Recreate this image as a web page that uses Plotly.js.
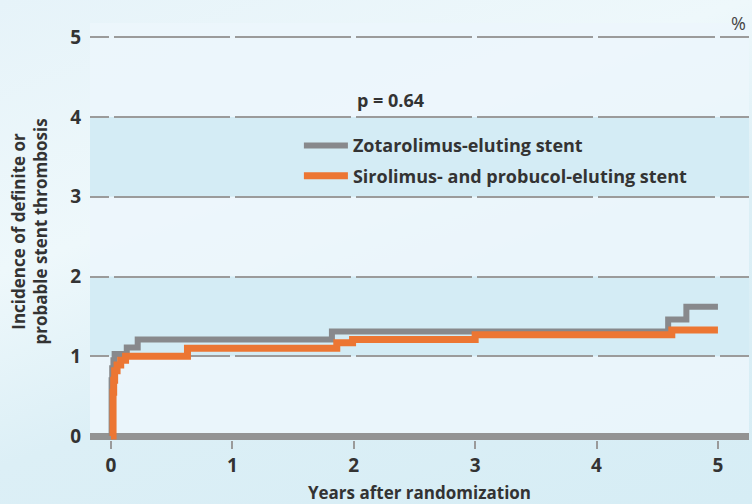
<!DOCTYPE html>
<html>
<head>
<meta charset="utf-8">
<script src="https://cdn.plot.ly/plotly-3.0.1.min.js"></script>
<style>
html,body{margin:0;padding:0;}
body{width:752px;height:504px;overflow:hidden;
background:linear-gradient(160deg,#e6f3f9 0%,#eef8fb 35%,#dceff6 60%,#d6edf5 100%);}
#chart{width:752px;height:504px;}
</style>
</head>
<body>
<div id="chart"></div>
<script>
// Years after randomization / cumulative incidence (%)
var zotYears = [0, 0.005, 0.01, 0.02, 0.03, 0.13, 0.22, 1.82, 4.59, 4.74, 5.0];
var zotInc   = [0, 0.70, 0.85, 0.95, 1.03, 1.11, 1.21, 1.31, 1.46, 1.62, 1.62];
var sirYears = [0, 0.017, 0.022, 0.03, 0.05, 0.08, 0.12, 0.63, 1.86, 1.99, 3.0, 4.62, 5.0];
var sirInc   = [0, 0.55, 0.70, 0.82, 0.89, 0.95, 1.00, 1.10, 1.17, 1.21, 1.27, 1.33, 1.33];
var xTicks = [0, 1, 2, 3, 4, 5];
var yTicks = [0, 1, 2, 3, 4, 5];
var seriesNames = ['Zotarolimus-eluting stent', 'Sirolimus- and probucol-eluting stent'];
var pText = 'p = 0.64';

var font = 'Open Sans, Noto Sans, DejaVu Sans, sans-serif';
var dash = '18.5px,5px';
for (var i = 0; i < 6; i++) dash += ',116.2px,5px';

var traces = [
  {x: zotYears, y: zotInc, name: seriesNames[0], mode: 'lines', type: 'scatter',
   line: {shape: 'hv', color: '#88898c', width: 6}, legendgroup: 'a'},
  {x: sirYears, y: sirInc, name: seriesNames[1], mode: 'lines', type: 'scatter',
   line: {shape: 'hv', color: '#ec7633', width: 7}, legendgroup: 'b'}
];

var bands = [];
[[3,4],[1,2]].forEach(function(b){
  bands.push({type:'rect', xref:'paper', yref:'y', x0:0, x1:1, y0:b[0], y1:b[1],
    fillcolor:'#d4ecf5', line:{width:0}, layer:'below'});
});

var layout = {
  width: 752, height: 504,
  margin: {l: 90, r: 3, t: 23, b: 64},
  paper_bgcolor: 'rgba(0,0,0,0)',
  plot_bgcolor: 'rgba(236,246,251,0.85)',
  font: {family: font, color: '#333333'},
  showlegend: true,
  legend: {x: 0.317, y: 0.75, xanchor: 'left', yanchor: 'top', bgcolor: 'rgba(0,0,0,0)',
    itemwidth: 44,
    font: {size: 18, weight: 'bold', color: '#333333', family: font}, tracegroupgap: 4},
  xaxis: {range: [-0.173, 5.256], tickvals: xTicks, ticks: 'outside', ticklen: 8, tickwidth: 2,
    tickcolor: '#9a9a9a', showgrid: false, zeroline: false, showline: false,
    tickfont: {size: 19, weight: 'bold', color: '#333333'},
    title: {text: 'Years after randomization', font: {size: 17, weight: 'bold', color: '#333333'}, standoff: 10}},
  yaxis: {range: [-0.05, 5.18], tickvals: yTicks, ticks: '', showgrid: true, gridcolor: '#9b9b9b',
    gridwidth: 2, griddash: dash, zeroline: true, zerolinecolor: '#939393', zerolinewidth: 7,
    showline: false, ticklabelstandoff: 8,
    tickfont: {size: 19, weight: 'bold', color: '#333333'},
    title: {text: 'Incidence of definite or<br>probable stent thrombosis', font: {size: 17, weight: 'bold', color: '#333333'}, standoff: 18}},
  shapes: bands,
  annotations: [
    {text: pText, xref: 'paper', yref: 'paper', x: 0.402, y: 0.815, xanchor: 'left', yanchor: 'middle',
     showarrow: false, font: {size: 18, weight: 'bold', color: '#333333'}},
    {text: '%', xref: 'paper', yref: 'paper', x: 0.998, y: 1.0, xanchor: 'right', yanchor: 'middle',
     showarrow: false, font: {size: 18, color: '#444444'}}
  ]
};

Plotly.newPlot('chart', traces, layout, {displayModeBar: false, staticPlot: true});
</script>
</body>
</html>
